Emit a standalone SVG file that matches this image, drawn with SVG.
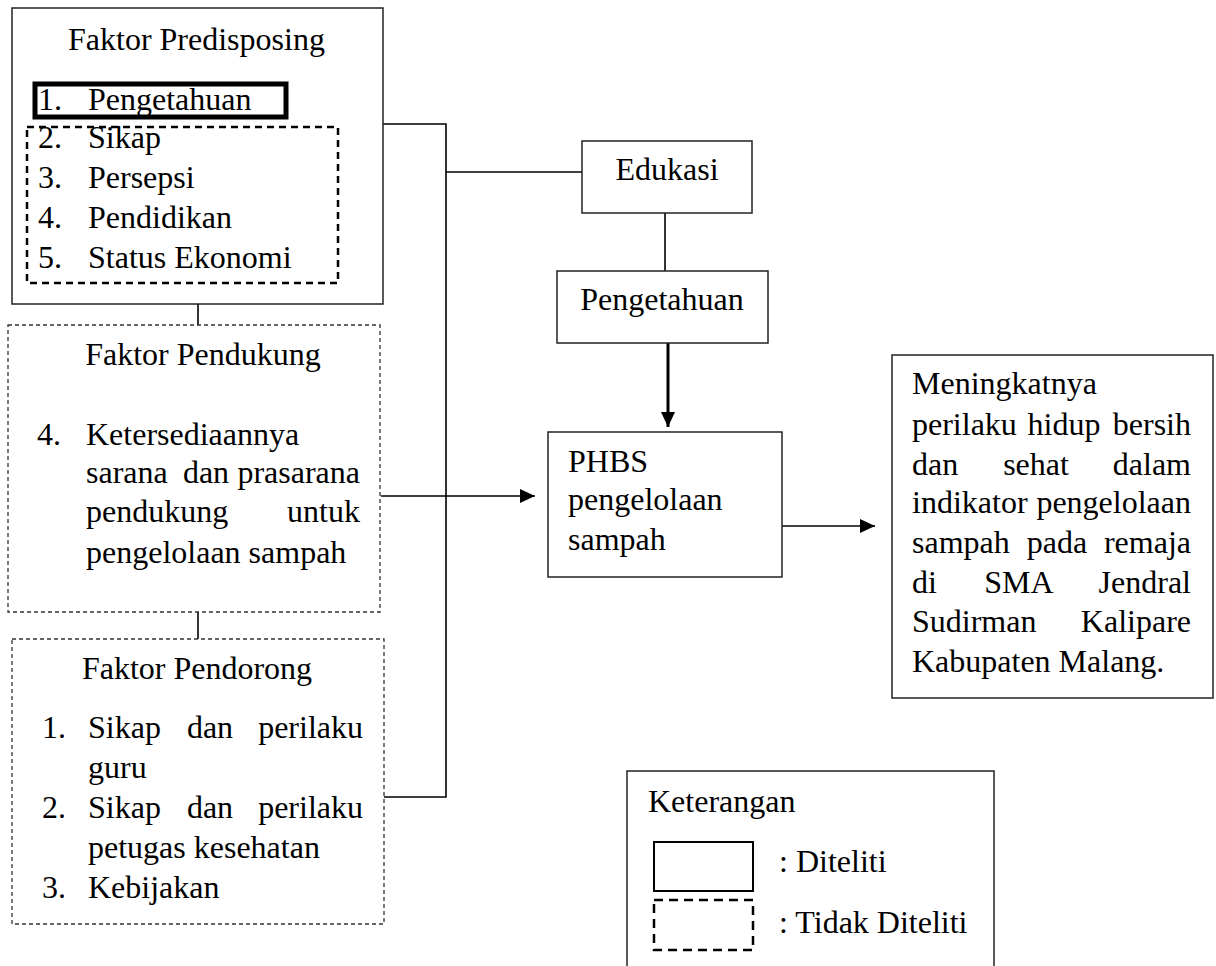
<svg xmlns="http://www.w3.org/2000/svg" width="1216" height="966" viewBox="0 0 1216 966">
<defs>
<style>
text{font-family:"Liberation Serif","Times New Roman",serif;font-size:32px;fill:#000}
.box{fill:none;stroke:#222;stroke-width:1.5}
.dbox{fill:none;stroke:#333;stroke-width:1.3;stroke-dasharray:4,3}
.thick{fill:none;stroke:#000;stroke-width:5}
.dthick{fill:none;stroke:#000;stroke-width:2.5;stroke-dasharray:7,5}
.ln{fill:none;stroke:#000;stroke-width:1.6}
.m{text-anchor:middle}
.e{text-anchor:end}
</style>
<marker id="ah" markerUnits="userSpaceOnUse" markerWidth="16" markerHeight="16" refX="15" refY="7" orient="auto" viewBox="0 0 16 14">
<path d="M0,0 L15,7 L0,14 z" fill="#000"/>
</marker>
</defs>
<rect width="1216" height="966" fill="#fff"/>

<g id="connectors">
<path class="ln" d="M383,124 H446 V797 H384"/>
<path class="ln" d="M446,172 H582"/>
<path class="ln" d="M665,213 V271"/>
<path class="ln" d="M198,304 V325"/>
<path class="ln" d="M198,612 V639"/>
<path class="ln" d="M381,496 H535" marker-end="url(#ah)"/>
<path fill="none" stroke="#000" stroke-width="3" d="M668,343 V427" marker-end="url(#ah)"/>
<path class="ln" d="M782,526 H875" marker-end="url(#ah)"/>
</g>

<g id="predisposing">
<rect class="box" x="12" y="8" width="371" height="296"/>
<text x="68" y="50">Faktor Predisposing</text>
<rect class="thick" x="35" y="84" width="251" height="33"/>
<rect class="dthick" x="27" y="127" width="311" height="156"/>
<text x="38" y="110">1.</text><text x="88" y="110">Pengetahuan</text>
<text x="38" y="148">2.</text><text x="88" y="148">Sikap</text>
<text x="38" y="188">3.</text><text x="88" y="188">Persepsi</text>
<text x="38" y="228">4.</text><text x="88" y="228">Pendidikan</text>
<text x="38" y="268">5.</text><text x="88" y="268">Status Ekonomi</text>
</g>

<g id="pendukung">
<rect class="dbox" x="8" y="325" width="372" height="287"/>
<text class="m" x="203" y="365">Faktor Pendukung</text>
<text x="37" y="445">4.</text><text x="86" y="445">Ketersediaannya</text>
<text x="86" y="483">sarana</text><text class="m" x="206" y="483">dan</text><text class="e" x="360" y="483">prasarana</text>
<text x="86" y="522">pendukung</text><text class="e" x="360" y="522">untuk</text>
<text x="86" y="563">pengelolaan sampah</text>
</g>

<g id="pendorong">
<rect class="dbox" x="12" y="639" width="372" height="285"/>
<text class="m" x="197" y="679">Faktor Pendorong</text>
<text x="42" y="738">1.</text><text x="88" y="738">Sikap</text><text class="m" x="210" y="738">dan</text><text class="e" x="363" y="738">perilaku</text>
<text x="88" y="778">guru</text>
<text x="42" y="818">2.</text><text x="88" y="818">Sikap</text><text class="m" x="210" y="818">dan</text><text class="e" x="363" y="818">perilaku</text>
<text x="88" y="858">petugas kesehatan</text>
<text x="42" y="898">3.</text><text x="88" y="898">Kebijakan</text>
</g>

<g id="edukasi">
<rect class="box" x="582" y="141" width="170" height="72"/>
<text class="m" x="667" y="180">Edukasi</text>
</g>

<g id="pengetahuan">
<rect class="box" x="557" y="271" width="211" height="72"/>
<text class="m" x="662" y="310">Pengetahuan</text>
</g>

<g id="phbs">
<rect class="box" x="548" y="432" width="234" height="145"/>
<text x="568" y="472">PHBS</text>
<text x="568" y="510">pengelolaan</text>
<text x="568" y="550">sampah</text>
</g>

<g id="hasil">
<rect class="box" x="892" y="355" width="321" height="343"/>
<text x="912" y="394">Meningkatnya</text>
<text x="912" y="435">perilaku</text><text class="m" x="1064" y="435">hidup</text><text class="e" x="1191" y="435">bersih</text>
<text x="912" y="475">dan</text><text class="m" x="1036" y="475">sehat</text><text class="e" x="1191" y="475">dalam</text>
<text x="912" y="513">indikator</text><text class="e" x="1191" y="513">pengelolaan</text>
<text x="912" y="553">sampah</text><text class="m" x="1057" y="553">pada</text><text class="e" x="1191" y="553">remaja</text>
<text x="912" y="593">di</text><text class="m" x="1019" y="593">SMA</text><text class="e" x="1191" y="593">Jendral</text>
<text x="912" y="632">Sudirman</text><text class="e" x="1191" y="632">Kalipare</text>
<text x="912" y="672">Kabupaten Malang.</text>
</g>

<g id="keterangan">
<path class="box" d="M627,966 V771 H994 V966"/>
<text x="648" y="812">Keterangan</text>
<rect fill="none" stroke="#000" stroke-width="2" x="654" y="842" width="99" height="49"/>
<rect fill="none" stroke="#000" stroke-width="2.5" stroke-dasharray="9,6" x="654" y="900" width="99" height="50"/>
<text x="779" y="872">: Diteliti</text>
<text x="779" y="933">: Tidak Diteliti</text>
</g>
</svg>
